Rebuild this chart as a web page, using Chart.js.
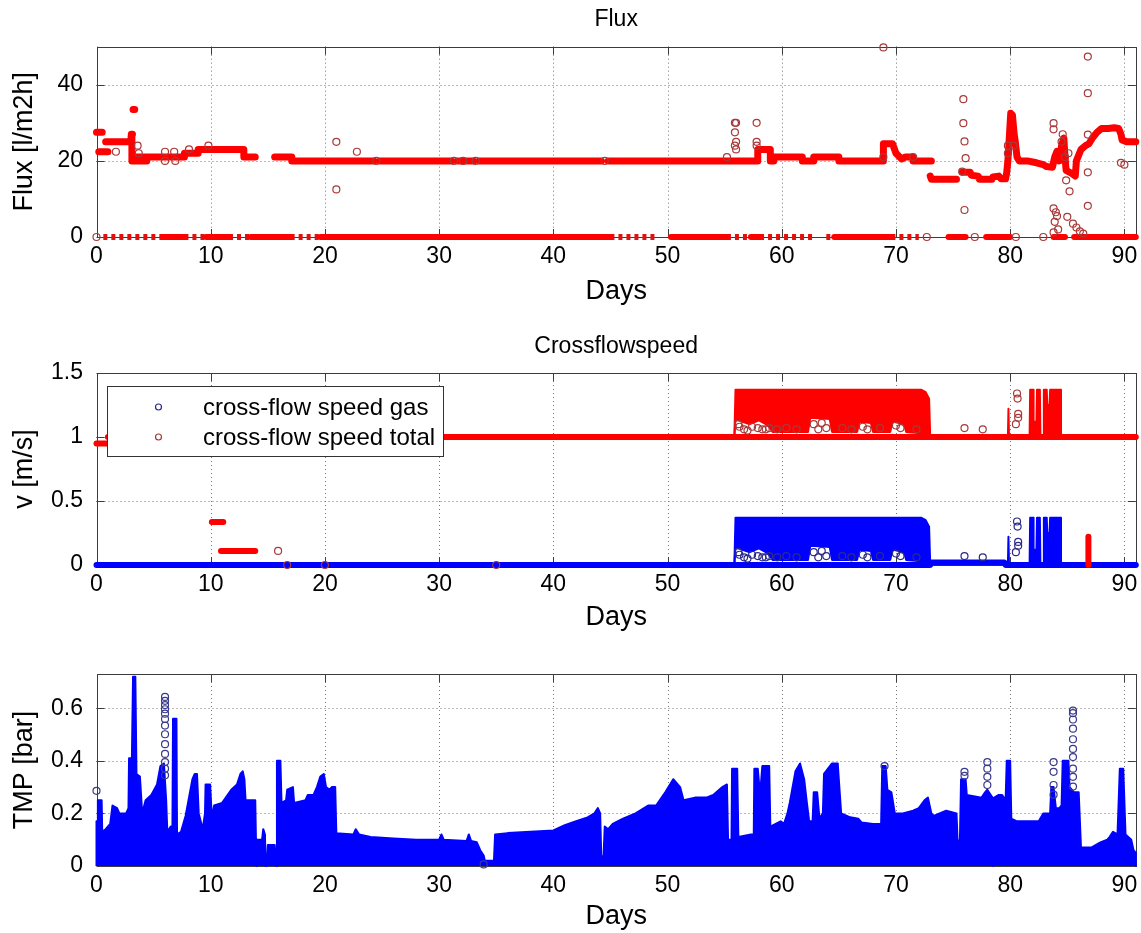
<!DOCTYPE html>
<html>
<head>
<meta charset="utf-8">
<title>Flux / Crossflowspeed / TMP</title>
<script src="https://cdn.jsdelivr.net/npm/chart.js@4.4.1/dist/chart.umd.min.js"></script>
<style>
  html, body { margin: 0; padding: 0; background: #fff; }
  #page { position: relative; width: 1141px; height: 933px; overflow: hidden; }
  canvas { position: absolute; left: 0; }
</style>
</head>
<body>
<div id="page">
  <canvas id="fluxChart" width="1141" height="320" style="top:0px"></canvas>
  <canvas id="speedChart" width="1141" height="320" style="top:320px"></canvas>
  <canvas id="tmpChart" width="1141" height="293" style="top:640px"></canvas>
</div>
<script>
// ---- tick labels ----
const dayTicks = [0, 10, 20, 30, 40, 50, 60, 70, 80, 90];
const fluxTicks = [0, 20, 40];
const speedTicks = [0, 0.5, 1, 1.5];
const tmpTicks = [0, 0.2, 0.4, 0.6];
const speedSeries = ['cross-flow speed gas', 'cross-flow speed total'];

// ---- Flux [l/m2h] : [day, value], null = break ----
const fluxBand = [
  [0.0, 27.5], [0.5, 27.5], null,
  [0.2, 22.4], [1.0, 22.4], null,
  [0.8, 25], [3.0, 25], [3.05, 27], [3.15, 27], null,
  [3.1, 20], [3.1, 27], null,
  [3.2, 33.5], [3.35, 33.5], null,
  [3.1, 20], [4.4, 20], null,
  [3.3, 21], [7.7, 21], [7.7, 22], [8.9, 22], [8.9, 23], [12.9, 23], [12.9, 21], [13.9, 21], null,
  [15.6, 21], [17.1, 21], [17.1, 20], [24.3, 20], null,
  [24.8, 20], [31.1, 20], null,
  [31.6, 20], [33.0, 20], null,
  [33.5, 20], [44.2, 20], null,
  [44.8, 20], [57.9, 20], [57.9, 23], [59.0, 23], [59.0, 20], [59.3, 20], [59.3, 21], [61.8, 21],
  [61.8, 20], [62.8, 20], [62.8, 21], [65.0, 21], [65.0, 20], [68.9, 20], [68.9, 24.5], [69.7, 24.5],
  [70.0, 22], [70.5, 20.5], [70.8, 21], [71.5, 21], [71.5, 20], [73.1, 20], null,
  [73.0, 16], [73.1, 15.2], [75.3, 15.2], null,
  [75.8, 17], [76.5, 17], [76.6, 16.2], [77.2, 16], [77.3, 15.2], [78.4, 15.2], null,
  [78.5, 15.8], [79.0, 16], [79.2, 15.3], [79.6, 15.3], [79.7, 17], [79.8, 20], [79.9, 25], [80.05, 32.5],
  [80.2, 32], [80.35, 27], [80.45, 25], [80.6, 21], [80.8, 20], [81.5, 20], [82.3, 19.5], [82.9, 19],
  [83.2, 18.5], [83.7, 18.3], [83.9, 21], [84.1, 22.5], [84.3, 20], [84.5, 24], [84.7, 26], [84.8, 21],
  [84.9, 17.5], [85.2, 17], [85.5, 16.5], [85.7, 16], [85.8, 20], [86.0, 21.5], [86.2, 23], [86.6, 24],
  [86.9, 24.5], [87.2, 26], [87.6, 27.5], [88.0, 28.5], [88.6, 28.5], [89.1, 28.7], [89.5, 28.5],
  [89.7, 27], [89.8, 25.5], [90.2, 25], [91.0, 25]
];
// day ranges where flux sits at 0
const fluxZeroSolid = [[5.8, 7.7], [9.6, 11.6], [13.5, 17.0], [19.6, 45.0], [50.3, 55.2], [57.3, 58.1],
  [64.6, 69.6], [74.6, 76.1], [77.9, 80.0], [83.8, 84.8], [85.6, 91.0]];
const fluxZeroSparse = [[0.6, 5.8], [7.7, 9.6], [11.6, 13.5], [17.0, 19.6], [45.0, 49.0], [55.2, 57.3],
  [58.1, 62.8], [63.9, 64.5], [69.6, 72.0]];
const fluxOutliers = [
  [0.0, 0], [1.7, 22.4], [3.6, 24], [3.7, 22], [6.0, 22.4], [6.0, 20], [6.8, 22.4], [6.9, 20], [8.1, 23],
  [9.8, 24], [21.0, 25], [21.0, 12.5], [22.8, 22.4], [24.5, 20], [31.3, 20], [32.1, 20], [33.2, 20],
  [44.5, 20], [55.2, 21], [55.9, 30], [56.0, 30], [55.9, 27.5], [56.0, 25], [55.9, 24], [56.0, 23],
  [57.8, 30], [57.8, 25], [57.8, 24], [68.9, 49.8], [68.9, 21], [71.5, 21], [72.7, 0], [75.9, 36.2],
  [75.9, 29.9], [76.0, 25.1], [76.1, 20.7], [75.8, 17.2], [76.0, 7.1], [76.9, 0], [80.5, 0], [82.9, 0],
  [83.8, 29.9], [83.8, 28.3], [83.8, 7.5], [84.0, 6.5], [84.1, 5.5], [83.9, 4], [84.2, 2], [83.8, 1.2],
  [84.9, 14.9], [85.2, 12], [85.0, 5.3], [85.5, 3.5], [85.8, 2.5], [86.1, 1.5], [86.4, 0.9],
  [86.8, 47.4], [86.8, 37.8], [86.8, 26.9], [86.8, 17], [86.8, 8.2], [89.7, 19.5], [90.0, 19],
  [79.8, 24], [79.8, 22], [80.3, 24], [84.6, 27], [84.5, 25], [85.1, 22], [84.8, 21]
];

// ---- Crossflowspeed v [m/s] ----
const totalBand = [
  [0, 0.95], [0.9, 0.95], null, [1.0, 1.0], [10.0, 1.0], null,
  [10.1, 0.335], [11.1, 0.335], null, [10.9, 0.11], [13.9, 0.11], null,
  [14.2, 1.0], [91.0, 1.0], null, [86.85, 0.0], [86.85, 0.22]
];
const gasBand = [[0, 0], [73.0, 0], [73.1, 0.02], [79.5, 0.02], [79.6, 0], [91, 0]];
// dense block 56-73 days: upper and lower edge of the solid part
const blockDays = [55.85, 55.95, 56.5, 57.2, 58.0, 58.8, 59.2, 62.3, 62.5, 64.2, 64.4, 66.6,
  66.8, 67.8, 68.0, 69.5, 69.7, 70.7, 70.9, 72.2, 72.6, 72.9, 73.0];
const totalBlockTop = [1.0, 1.37, 1.37, 1.37, 1.37, 1.37, 1.37, 1.37, 1.37, 1.37, 1.37, 1.37,
  1.37, 1.37, 1.37, 1.37, 1.37, 1.37, 1.37, 1.37, 1.35, 1.3, 1.0];
const totalBlockLow = [1.0, 1.14, 1.12, 1.1, 1.13, 1.09, 1.04, 1.04, 1.15, 1.14, 1.04, 1.04,
  1.12, 1.11, 1.04, 1.04, 1.12, 1.1, 1.04, 1.03, 1.02, 1.01, 1.0];
const gasBlockTop = [0, 0.37, 0.37, 0.37, 0.37, 0.37, 0.37, 0.37, 0.37, 0.37, 0.37, 0.37,
  0.37, 0.37, 0.37, 0.37, 0.37, 0.37, 0.37, 0.37, 0.35, 0.3, 0];
const gasBlockLow = [0, 0.14, 0.12, 0.1, 0.13, 0.09, 0.04, 0.04, 0.15, 0.14, 0.04, 0.04,
  0.12, 0.11, 0.04, 0.04, 0.12, 0.1, 0.04, 0.03, 0.02, 0.01, 0];
const totalBursts = [[79.8, 1.0], [79.85, 1.22], [79.9, 1.0], null,
  [81.7, 1.0], [81.75, 1.37], [82.0, 1.37], [82.05, 1.12], [82.3, 1.12], [82.35, 1.37], [82.6, 1.37], [82.65, 1.0], null,
  [82.9, 1.0], [82.95, 1.37], [83.2, 1.37], [83.25, 1.25], [83.45, 1.25], [83.5, 1.37], [84.4, 1.37], [84.45, 1.0]];
const gasBursts = [[79.8, 0], [79.85, 0.22], [79.9, 0], null,
  [81.7, 0], [81.75, 0.37], [82.0, 0.37], [82.05, 0.12], [82.3, 0.12], [82.35, 0.37], [82.6, 0.37], [82.65, 0], null,
  [82.9, 0], [82.95, 0.37], [83.2, 0.37], [83.25, 0.25], [83.45, 0.25], [83.5, 0.37], [84.4, 0.37], [84.45, 0]];
const totalDots = [[15.9, 0.11], [16.7, 0], [20, 0], [35, 0], [76.0, 1.07], [77.6, 1.06], [80.6, 1.34],
  [80.65, 1.3], [80.7, 1.18], [80.7, 1.15], [80.5, 1.1], [56.3, 1.08], [56.7, 1.06], [57.0, 1.05],
  [57.4, 1.08], [57.9, 1.07], [58.3, 1.06], [58.6, 1.06], [56.2, 1.1], [58.9, 1.07], [62.8, 1.1],
  [63.2, 1.06], [63.5, 1.11], [63.9, 1.07], [67.1, 1.08], [67.5, 1.06], [70.0, 1.09], [70.4, 1.07],
  [59.6, 1.06], [60.4, 1.07], [61.3, 1.06], [65.3, 1.07], [66.1, 1.06], [68.6, 1.07], [71.8, 1.06]];
const gasDots = [[76.0, 0.07], [77.6, 0.06], [80.6, 0.34], [80.65, 0.3], [80.7, 0.18], [80.7, 0.15],
  [80.5, 0.1], [56.3, 0.08], [56.7, 0.06], [57.0, 0.05], [57.4, 0.08], [57.9, 0.07], [58.3, 0.06],
  [58.6, 0.06], [56.2, 0.1], [58.9, 0.07], [62.8, 0.1], [63.2, 0.06], [63.5, 0.11], [63.9, 0.07],
  [67.1, 0.08], [67.5, 0.06], [70.0, 0.09], [70.4, 0.07],
  [59.6, 0.06], [60.4, 0.07], [61.3, 0.06], [65.3, 0.07], [66.1, 0.06], [68.6, 0.07], [71.8, 0.06]];

// ---- TMP [bar] upper envelope ----
const tmpEnvelope = [
  [0.0, 0.0], [0.0, 0.17], [0.1, 0.17], [0.12, 0.25], [0.45, 0.25], [0.5, 0.13], [0.8, 0.14], [1.2, 0.16],
  [1.4, 0.23], [1.8, 0.22], [2.0, 0.2], [2.6, 0.2], [2.8, 0.22], [2.85, 0.41], [3.1, 0.41], [3.2, 0.72],
  [3.4, 0.72], [3.5, 0.35], [3.8, 0.34], [4.0, 0.2], [4.3, 0.25], [4.8, 0.27], [5.3, 0.31], [5.6, 0.38],
  [5.9, 0.39], [6.1, 0.25], [6.2, 0.13], [6.5, 0.15], [6.65, 0.15], [6.7, 0.56], [7.0, 0.56], [7.05, 0.12],
  [7.4, 0.13], [7.8, 0.19], [8.1, 0.26], [8.4, 0.33], [8.6, 0.35], [8.8, 0.35], [8.95, 0.2], [9.3, 0.14],
  [9.5, 0.2], [9.55, 0.31], [9.95, 0.31], [10.1, 0.18], [10.3, 0.23], [11.0, 0.24], [11.8, 0.29],
  [12.3, 0.31], [12.6, 0.35], [12.8, 0.36], [12.95, 0.33], [13.05, 0.25], [13.9, 0.25], [14.0, 0.0],
  [14.05, 0.1], [14.5, 0.1], [14.6, 0.14], [14.75, 0.12], [14.8, 0.0], [14.9, 0.0], [15.0, 0.08],
  [15.6, 0.08], [15.75, 0.0], [15.8, 0.4], [16.1, 0.4], [16.2, 0.24], [16.6, 0.25], [16.7, 0.29],
  [17.2, 0.3], [17.3, 0.24], [18.3, 0.25], [18.5, 0.27], [19.0, 0.27], [19.3, 0.3], [19.6, 0.34],
  [19.9, 0.35], [20.1, 0.3], [20.4, 0.29], [20.6, 0.3], [20.9, 0.3], [21.0, 0.125], [22.5, 0.12],
  [22.7, 0.14], [23.0, 0.12], [24.0, 0.11], [26.0, 0.105], [28.0, 0.1], [30.0, 0.1], [30.2, 0.12],
  [30.4, 0.1], [32.4, 0.095], [32.6, 0.12], [32.8, 0.095], [33.3, 0.09], [33.6, 0.06], [33.9, 0.04],
  [34.0, 0.02], [34.8, 0.02], [34.9, 0.12], [36.0, 0.125], [38.0, 0.13], [40.0, 0.135], [41.0, 0.155],
  [42.0, 0.17], [43.0, 0.185], [43.6, 0.2], [43.9, 0.22], [44.1, 0.2], [44.2, 0.03], [44.4, 0.04],
  [44.5, 0.15], [44.8, 0.14], [45.2, 0.16], [46.1, 0.18], [47.2, 0.2], [48.3, 0.23], [49.0, 0.23],
  [49.8, 0.28], [50.5, 0.33], [51.1, 0.3], [51.4, 0.25], [52.4, 0.26], [53.4, 0.26], [54.0, 0.27],
  [54.8, 0.3], [55.2, 0.31], [55.3, 0.1], [55.6, 0.1], [55.65, 0.37], [56.1, 0.37], [56.2, 0.11],
  [57.3, 0.12], [57.55, 0.12], [57.6, 0.37], [57.9, 0.37], [58.1, 0.27], [58.3, 0.38], [58.9, 0.38],
  [59.0, 0.15], [59.9, 0.17], [60.2, 0.16], [60.5, 0.2], [60.7, 0.24], [61.2, 0.36], [61.6, 0.39],
  [61.96, 0.33], [62.2, 0.24], [62.4, 0.17], [62.7, 0.17], [62.8, 0.28], [63.1, 0.28], [63.3, 0.18],
  [63.6, 0.2], [63.7, 0.35], [64.4, 0.39], [64.9, 0.39], [65.2, 0.2], [66.0, 0.185], [66.7, 0.18],
  [67.0, 0.165], [68.0, 0.16], [68.7, 0.16], [68.8, 0.38], [69.1, 0.38], [69.25, 0.29], [69.6, 0.28],
  [69.9, 0.2], [70.6, 0.2], [71.5, 0.21], [72.0, 0.22], [72.5, 0.25], [72.8, 0.26], [73.1, 0.2],
  [73.3, 0.19], [74.4, 0.21], [75.3, 0.2], [75.4, 0.09], [75.6, 0.1], [75.7, 0.33], [76.1, 0.33],
  [76.2, 0.27], [77.5, 0.26], [77.8, 0.28], [78.0, 0.29], [78.3, 0.27], [78.45, 0.26], [78.5, 0.0],
  [78.6, 0.26], [79.0, 0.27], [79.3, 0.27], [79.6, 0.25], [79.7, 0.4], [80.0, 0.4], [80.1, 0.18],
  [80.6, 0.17], [82.5, 0.17], [82.9, 0.2], [83.5, 0.2], [83.6, 0.3], [83.8, 0.3], [84.0, 0.22],
  [84.3, 0.22], [84.5, 0.23], [84.6, 0.4], [85.1, 0.4], [85.2, 0.3], [85.6, 0.28], [86.0, 0.28],
  [86.2, 0.07], [87.1, 0.07], [87.9, 0.09], [88.5, 0.1], [88.7, 0.11], [89.0, 0.13], [89.4, 0.12],
  [89.6, 0.37], [89.9, 0.37], [90.1, 0.12], [90.6, 0.1], [90.8, 0.06], [91.0, 0.05], [91.0, 0.0]
];
const tmpDots = [
  [0.0, 0.286], [33.9, 0.006],
  [6.0, 0.643], [6.0, 0.628], [6.0, 0.612], [6.0, 0.596], [6.0, 0.579], [6.0, 0.559], [6.0, 0.534],
  [6.0, 0.501], [6.0, 0.463], [6.0, 0.426], [6.0, 0.395], [6.0, 0.370], [6.0, 0.345],
  [69.0, 0.38], [76.0, 0.358], [76.0, 0.343],
  [78.0, 0.395], [78.0, 0.370], [78.0, 0.339], [78.0, 0.308],
  [83.8, 0.395], [83.8, 0.358], [83.8, 0.308], [83.8, 0.271],
  [85.5, 0.591], [85.5, 0.581], [85.5, 0.557], [85.5, 0.522], [85.5, 0.482], [85.5, 0.445],
  [85.5, 0.414], [85.5, 0.370], [85.5, 0.339], [85.5, 0.302]
];

const FONT = "'Liberation Sans', Arial, Helvetica, sans-serif";
const RED = '#ff0000';
const BLUE = '#0000ff';

function toPoints(pairs) {
    let lastX = 0;
    return pairs.map(p => {
        if (!p) return {x: lastX, y: null};
        lastX = p[0];
        return {x: p[0], y: p[1]};
    });
}

function zip(days, values) {
    return days.map((d, i) => [d, values[i]]);
}

function rangesToPoints(ranges, value) {
    const pairs = [];
    ranges.forEach(r => { pairs.push([r[0], value], [r[1], value], null); });
    return toPoints(pairs);
}

function band(data, color, width, extra) {
    return Object.assign({
        data: toPoints(data), borderColor: color, backgroundColor: color, borderWidth: width,
        pointRadius: 0, fill: false, tension: 0, clip: 8,
        borderCapStyle: 'round', borderJoinStyle: 'round'
    }, extra || {});
}

function circles(data, color) {
    return {
        data: toPoints(data), showLine: false, pointRadius: 3.5, pointBorderWidth: 1.2,
        pointBorderColor: color, pointBackgroundColor: 'rgba(0,0,0,0)', clip: 8
    };
}

// matlab-like box, inward ticks and dotted grid, drawn under the data
const matlabAxes = {
    id: 'matlabAxes',
    beforeDatasetsDraw(chart) {
        const {ctx, chartArea: a} = chart;
        const xs = chart.scales.x, ys = chart.scales.y;
        ctx.save();
        ctx.lineWidth = 1;
        ctx.strokeStyle = '#777';
        ctx.setLineDash([1, 3]);
        xs.ticks.forEach(t => {
            const px = Math.round(xs.getPixelForValue(t.value)) + 0.5;
            if (px > a.left + 2 && px < a.right - 2) {
                ctx.beginPath(); ctx.moveTo(px, a.top); ctx.lineTo(px, a.bottom); ctx.stroke();
            }
        });
        ys.ticks.forEach(t => {
            const py = Math.round(ys.getPixelForValue(t.value)) + 0.5;
            if (py > a.top + 2 && py < a.bottom - 2) {
                ctx.beginPath(); ctx.moveTo(a.left, py); ctx.lineTo(a.right, py); ctx.stroke();
            }
        });
        ctx.setLineDash([]);
        ctx.strokeStyle = '#3c3c3c';
        ctx.strokeRect(Math.round(a.left) + 0.5, Math.round(a.top) + 0.5,
            Math.round(a.right - a.left), Math.round(a.bottom - a.top));
        const tl = 8;
        ctx.beginPath();
        xs.ticks.forEach(t => {
            const px = Math.round(xs.getPixelForValue(t.value)) + 0.5;
            ctx.moveTo(px, a.bottom); ctx.lineTo(px, a.bottom - tl);
            ctx.moveTo(px, a.top); ctx.lineTo(px, a.top + tl);
        });
        ys.ticks.forEach(t => {
            const py = Math.round(ys.getPixelForValue(t.value)) + 0.5;
            ctx.moveTo(a.left, py); ctx.lineTo(a.left + tl, py);
            ctx.moveTo(a.right, py); ctx.lineTo(a.right - tl, py);
        });
        ctx.stroke();
        ctx.restore();
    }
};

const speedLegend = {
    id: 'speedLegend',
    afterDatasetsDraw(chart) {
        const {ctx, chartArea: a} = chart;
        const x = Math.round(a.left + 10.5), y = Math.round(a.top + 13), w = 336, h = 70;
        const colors = ['#2b2b8a', '#a03a3a'];
        ctx.save();
        ctx.fillStyle = '#fff';
        ctx.fillRect(x, y, w, h);
        ctx.strokeStyle = '#333';
        ctx.lineWidth = 1;
        ctx.strokeRect(x + 0.5, y + 0.5, w, h);
        ctx.font = '24px ' + FONT;
        ctx.textBaseline = 'middle';
        ctx.textAlign = 'left';
        speedSeries.forEach((label, i) => {
            const cy = y + 21 + i * 30;
            ctx.beginPath();
            ctx.arc(x + 51.5, cy, 3, 0, Math.PI * 2);
            ctx.strokeStyle = colors[i];
            ctx.lineWidth = 1.2;
            ctx.stroke();
            ctx.fillStyle = '#000';
            ctx.fillText(label, x + 96, cy + 1);
        });
        ctx.restore();
    }
};

function daysAxis(height, titlePad) {
    return {
        type: 'linear', min: 0, max: 91,
        afterBuildTicks: s => { s.ticks = dayTicks.map(v => ({value: v})); },
        afterFit: s => { s.height = height; s.paddingLeft = 0; s.paddingRight = 0; },
        grid: {display: false, drawTicks: false},
        border: {display: false},
        ticks: {color: '#000', font: {family: FONT, size: 23}, padding: 6, maxRotation: 0,
            autoSkip: false, callback: v => String(v)},
        title: {display: true, text: 'Days', color: '#000', font: {family: FONT, size: 27},
            padding: {top: 0, bottom: titlePad}}
    };
}

function valueAxis(max, tickValues, label) {
    return {
        type: 'linear', min: 0, max: max,
        afterBuildTicks: s => { s.ticks = tickValues.map(v => ({value: v})); },
        afterFit: s => { s.width = 96.5; s.paddingTop = 0; s.paddingBottom = 0; },
        grid: {display: false, drawTicks: false},
        border: {display: false},
        ticks: {color: '#000', font: {family: FONT, size: 23}, padding: 13.5,
            autoSkip: false, callback: v => String(v)},
        title: {display: true, text: label, color: '#000', font: {family: FONT, size: 27},
            padding: {top: 8, bottom: 0}}
    };
}

function baseOptions(title, titlePad, layoutTop, xHeight, xTitlePad, yMax, yTicks, yLabel) {
    return {
        responsive: false,
        animation: false,
        devicePixelRatio: 1,
        events: [],
        layout: {padding: {left: 0, right: 4, top: layoutTop, bottom: 0}},
        scales: {
            x: daysAxis(xHeight, xTitlePad),
            y: valueAxis(yMax, yTicks, yLabel)
        },
        plugins: {
            legend: {display: false},
            tooltip: {enabled: false},
            title: {
                display: !!title, text: title, fullSize: false, color: '#000',
                font: {family: FONT, size: 23, weight: 'normal'},
                padding: titlePad
            }
        }
    };
}

function drawFlux() {
    const ctx = document.getElementById('fluxChart').getContext('2d');
    new Chart(ctx, {
        type: 'line',
        data: {
            datasets: [
                circles(fluxOutliers, '#a83a3a'),
                band(fluxBand, RED, 7),
                band([], RED, 6, {data: rangesToPoints(fluxZeroSolid, 0)}),
                band([], RED, 6, {data: rangesToPoints(fluxZeroSparse, 0), borderDash: [4, 4],
                    borderCapStyle: 'butt', borderColor: '#e01010'})
            ]
        },
        options: baseOptions('Flux', {top: 6.2, bottom: 12.9}, 0, 83, 11.8, 50, fluxTicks, 'Flux [l/m2h]'),
        plugins: [matlabAxes]
    });
}

function drawSpeed() {
    const ctx = document.getElementById('speedChart').getContext('2d');
    new Chart(ctx, {
        type: 'line',
        data: {
            datasets: [
                circles(totalDots, '#a83a3a'),
                circles(gasDots, '#2b2b8a'),
                band(zip(blockDays, totalBlockTop), RED, 2, {fill: '+1', borderCapStyle: 'butt'}),
                band(zip(blockDays, totalBlockLow), RED, 2, {borderCapStyle: 'butt'}),
                band(zip(blockDays, gasBlockTop), BLUE, 2, {fill: '+1', borderCapStyle: 'butt'}),
                band(zip(blockDays, gasBlockLow), BLUE, 2, {borderCapStyle: 'butt'}),
                band(totalBursts, RED, 2, {fill: {value: 1}, borderCapStyle: 'butt'}),
                band(gasBursts, BLUE, 2, {fill: 'origin', borderCapStyle: 'butt'}),
                band(totalBand, RED, 6),
                band(gasBand, BLUE, 6)
            ]
        },
        options: baseOptions('Crossflowspeed', {top: 13.2, bottom: 12.2}, 0, 75, 5.8, 1.5, speedTicks, 'v [m/s]'),
        plugins: [matlabAxes, speedLegend]
    });
}

function drawTmp() {
    const ctx = document.getElementById('tmpChart').getContext('2d');
    new Chart(ctx, {
        type: 'line',
        data: {
            datasets: [
                circles(tmpDots, '#3a3a8c'),
                band(tmpEnvelope, BLUE, 2, {fill: 'origin', borderCapStyle: 'butt'})
            ]
        },
        options: baseOptions('', {top: 0, bottom: 0}, 34, 67, 0, 0.73, tmpTicks, 'TMP [bar]'),
        plugins: [matlabAxes]
    });
}

document.addEventListener("DOMContentLoaded", function () {
    drawFlux();
    drawSpeed();
    drawTmp();
});
</script>
</body>
</html>
